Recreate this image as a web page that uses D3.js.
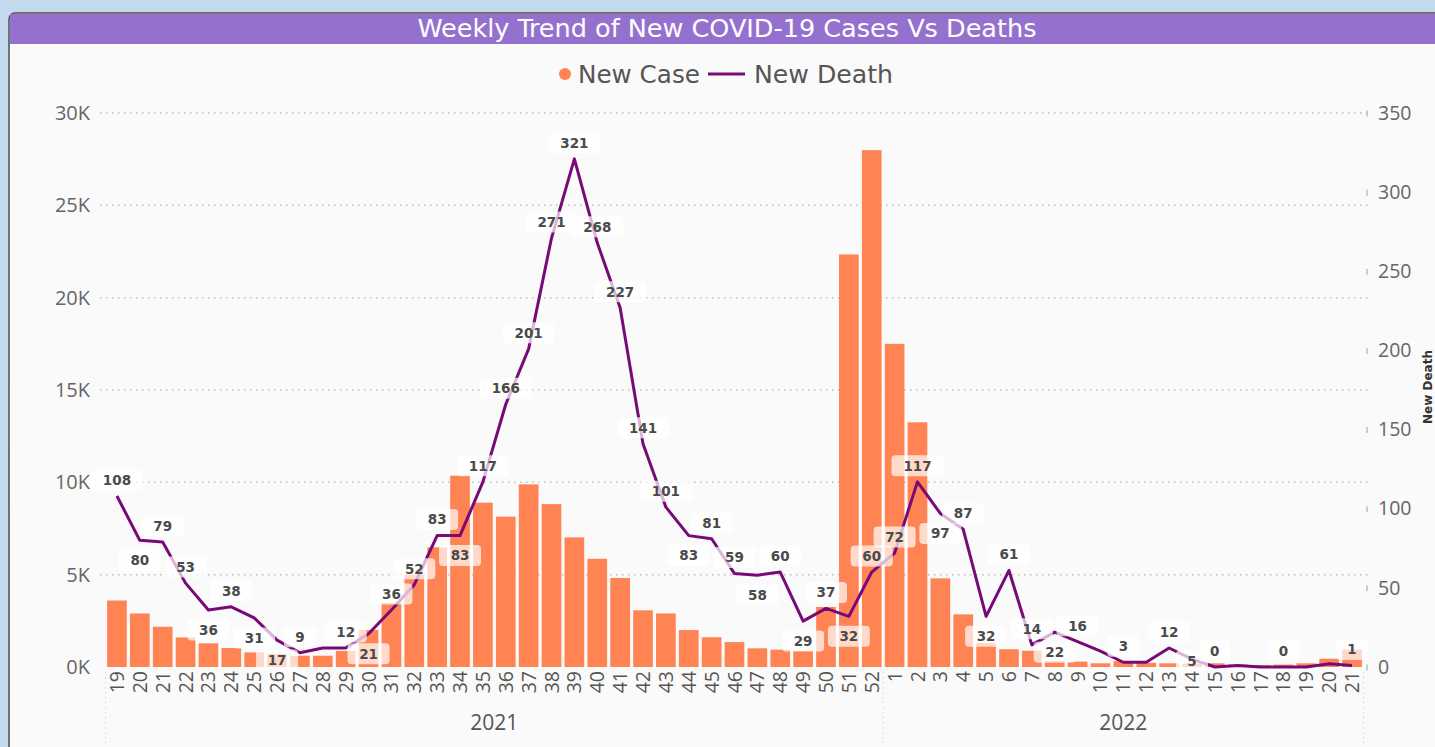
<!DOCTYPE html>
<html>
<head>
<meta charset="utf-8">
<script src="https://cdn.jsdelivr.net/npm/d3@7"></script>
<style>
  html, body { margin: 0; padding: 0; background: #c3d9ee; overflow: hidden; }
  svg { display: block; }
</style>
</head>
<body>
<svg id="chart" width="1435" height="747"></svg>
<script>
"use strict";

// weeks of each year, as shown on the axis
var weeks2021 = ["19","20","21","22","23","24","25","26","27","28","29","30","31","32","33","34","35",
                 "36","37","38","39","40","41","42","43","44","45","46","47","48","49","50","51","52"];
var weeks2022 = ["1","2","3","4","5","6","7","8","9","10","11","12","13","14","15","16","17","18","19","20","21"];

// new cases per week (bars)
var cases2021 = [3600,2900,2180,1600,1280,1030,790,700,610,610,870,2000,3470,5000,6480,10360,8900,
                 8140,9890,8820,7020,5860,4820,3070,2900,2000,1610,1350,1010,940,870,3250,22340,27990];
var cases2022 = [17500,13250,4800,2850,1300,960,880,320,290,200,320,230,200,180,200,130,100,130,200,450,950];

// new deaths per week (line)
var deaths2021 = [108,80,79,53,36,38,31,17,9,12,12,21,36,52,83,83,117,166,201,271,321,268,227,141,101,
                  83,81,59,58,60,29,37,32,60];
var deaths2022 = [72,117,97,87,32,61,14,22,16,10,3,3,12,5,0,1,0,0,0,2,1];

// which side the data label sits on ("a" above, "b" below, "c" on the point, "" none)
var labelSide2021 = ["a","b","a","a","b","a","b","b","a","","a","b","a","a","a","b","a","a","a","a","a","a",
                     "a","a","a","b","a","a","b","a","b","a","b","a"];
var labelSide2022 = ["a","a","b","a","b","a","a","b","a","","a","","a","c","a","","","a","","","a"];

var caseTicks = [0,5000,10000,15000,20000,25000,30000];
var deathTicks = [0,50,100,150,200,250,300,350];

var years = [
  {year: "2021", weeks: weeks2021, cases: cases2021, deaths: deaths2021, side: labelSide2021},
  {year: "2022", weeks: weeks2022, cases: cases2022, deaths: deaths2022, side: labelSide2022}
];

var rows = [];
years.forEach(function (y) {
  y.weeks.forEach(function (w, i) {
    rows.push({key: y.year + "-" + w, year: y.year, week: w,
               cases: y.cases[i], deaths: y.deaths[i], side: y.side[i]});
  });
});

var W = 1435, H = 747;
var orange = "#ff8353", purple = "#780a78";
var uiFont = "'Open Sans', 'Noto Sans', sans-serif";
var titleFont = "'Liberation Sans Narrow', 'DejaVu Sans Condensed', 'Roboto', sans-serif";
var labelOffset = {a: -16, b: 20, c: 2};

var svg = d3.select("#chart");

// card + title bar
svg.append("rect")
  .attr("x", 9).attr("y", 13).attr("width", W).attr("height", H)
  .attr("rx", 6)
  .attr("fill", "#fafafa").attr("stroke", "#4d4d4d").attr("stroke-width", 1.5);
svg.append("rect")
  .attr("x", 10).attr("y", 14).attr("width", W).attr("height", 30)
  .attr("fill", "#9571cf");
svg.append("text")
  .attr("x", 727).attr("y", 37)
  .attr("text-anchor", "middle")
  .attr("fill", "#fff")
  .attr("font-family", titleFont)
  .attr("font-size", 25)
  .attr("textLength", 619).attr("lengthAdjust", "spacingAndGlyphs")
  .text("Weekly Trend of New COVID-19 Cases Vs Deaths");

// legend
var legend = svg.append("g").attr("font-family", titleFont).attr("font-size", 25).attr("fill", "#555");
legend.append("circle").attr("cx", 565).attr("cy", 74).attr("r", 6).attr("fill", orange);
legend.append("text").attr("x", 578).attr("y", 83)
  .attr("textLength", 122).attr("lengthAdjust", "spacingAndGlyphs").text("New Case");
legend.append("line").attr("x1", 708).attr("x2", 745).attr("y1", 74).attr("y2", 74)
  .attr("stroke", purple).attr("stroke-width", 3);
legend.append("text").attr("x", 754).attr("y", 83)
  .attr("textLength", 139).attr("lengthAdjust", "spacingAndGlyphs").text("New Death");

// scales
var x = d3.scaleBand()
  .domain(rows.map(function (d) { return d.key; }))
  .range([105.5, 1363.5])
  .paddingInner(0.14)
  .paddingOuter(0.07);

var yCases = d3.scaleLinear().domain([0, 30000]).range([667, 113]);
var yDeaths = d3.scaleLinear().domain([0, 350]).range([667, 113]);

// gridlines (left axis)
svg.append("g")
  .selectAll("line")
  .data(caseTicks.slice(1))
  .join("line")
    .attr("x1", 100).attr("x2", 1368)
    .attr("y1", function (d) { return yCases(d); })
    .attr("y2", function (d) { return yCases(d); })
    .attr("stroke", "#bdbdbd").attr("stroke-width", 1.5)
    .attr("stroke-dasharray", "1.5,4.5");

// left axis
var leftAxis = svg.append("g")
  .attr("transform", "translate(90,0)")
  .call(d3.axisLeft(yCases).tickValues(caseTicks).tickSize(0).tickPadding(0)
    .tickFormat(function (d) { return (d / 1000) + "K"; }));
leftAxis.select(".domain").remove();
leftAxis.selectAll("text")
  .attr("font-family", uiFont).attr("font-size", 20).attr("fill", "#666");

// right axis
var rightAxis = svg.append("g")
  .attr("transform", "translate(1367,0)")
  .call(d3.axisRight(yDeaths).tickValues(deathTicks).tickSize(0).tickPadding(11));
rightAxis.select(".domain").remove();
rightAxis.selectAll("text")
  .attr("font-family", uiFont).attr("font-size", 19.5).attr("fill", "#666");
rightAxis.selectAll(".tick").append("line")
  .attr("x1", 0).attr("x2", 0).attr("y1", -3).attr("y2", 3)
  .attr("stroke", "#bdbdbd").attr("stroke-width", 1.5);

svg.append("text")
  .attr("transform", "translate(1432,387) rotate(-90)")
  .attr("text-anchor", "middle")
  .attr("font-family", "'DejaVu Sans', sans-serif")
  .attr("font-size", 12).attr("font-weight", "bold")
  .attr("fill", "#333")
  .text("New Death");

// bars
svg.append("g")
  .selectAll("rect")
  .data(rows)
  .join("rect")
    .attr("x", function (d) { return x(d.key); })
    .attr("width", x.bandwidth())
    .attr("y", function (d) { return yCases(d.cases); })
    .attr("height", function (d) { return yCases(0) - yCases(d.cases); })
    .attr("fill", orange);

// line
var line = d3.line()
  .x(function (d) { return x(d.key) + x.bandwidth() / 2; })
  .y(function (d) { return yDeaths(d.deaths); });

svg.append("path")
  .datum(rows)
  .attr("d", line)
  .attr("fill", "none")
  .attr("stroke", purple)
  .attr("stroke-width", 3)
  .attr("stroke-linejoin", "round");

// data labels
var labels = svg.append("g")
  .selectAll("g")
  .data(rows.filter(function (d) { return d.side !== ""; }))
  .join("g")
    .attr("transform", function (d) {
      var cx = x(d.key) + x.bandwidth() / 2;
      var cy = yDeaths(d.deaths) + labelOffset[d.side];
      return "translate(" + cx + "," + cy + ")";
    });

labels.append("rect")
  .attr("x", function (d) { return -(String(d.deaths).length * 5 + 11); })
  .attr("width", function (d) { return String(d.deaths).length * 10 + 22; })
  .attr("y", -10.5).attr("height", 21)
  .attr("rx", 4)
  .attr("fill", "#fff").attr("fill-opacity", 0.7);

labels.append("text")
  .attr("text-anchor", "middle")
  .attr("dy", "0.36em")
  .attr("font-family", "'DejaVu Sans', sans-serif")
  .attr("font-size", 13.5).attr("font-weight", "bold")
  .attr("fill", "#4a4a4a")
  .text(function (d) { return d.deaths; });

// x axis week labels
svg.append("g")
  .selectAll("text")
  .data(rows)
  .join("text")
    .attr("transform", function (d) {
      return "translate(" + (x(d.key) + x.bandwidth() / 2) + ",671) rotate(-90)";
    })
    .attr("text-anchor", "end")
    .attr("dy", "0.36em")
    .attr("font-family", uiFont).attr("font-size", 19.5).attr("fill", "#555")
    .text(function (d) { return d.week; });

// year groups
var groups = years.map(function (y) {
  var first = x(y.year + "-" + y.weeks[0]);
  var last = x(y.year + "-" + y.weeks[y.weeks.length - 1]) + x.bandwidth();
  return {year: y.year, x0: first - x.step() * x.paddingInner() / 2, x1: last + x.step() * x.paddingInner() / 2};
});

var seps = [groups[0].x0, groups[1].x0, groups[1].x1];
svg.append("g")
  .selectAll("line")
  .data(seps)
  .join("line")
    .attr("x1", function (d) { return d; }).attr("x2", function (d) { return d; })
    .attr("y1", 672).attr("y2", 747)
    .attr("stroke", "#d6d6d6").attr("stroke-width", 1)
    .attr("stroke-dasharray", "1.5,3.5");

svg.append("g")
  .selectAll("text")
  .data(groups)
  .join("text")
    .attr("x", function (d) { return (d.x0 + d.x1) / 2; })
    .attr("y", 730)
    .attr("text-anchor", "middle")
    .attr("font-family", uiFont).attr("font-size", 21).attr("fill", "#555")
    .text(function (d) { return d.year; });
</script>
</body>
</html>
